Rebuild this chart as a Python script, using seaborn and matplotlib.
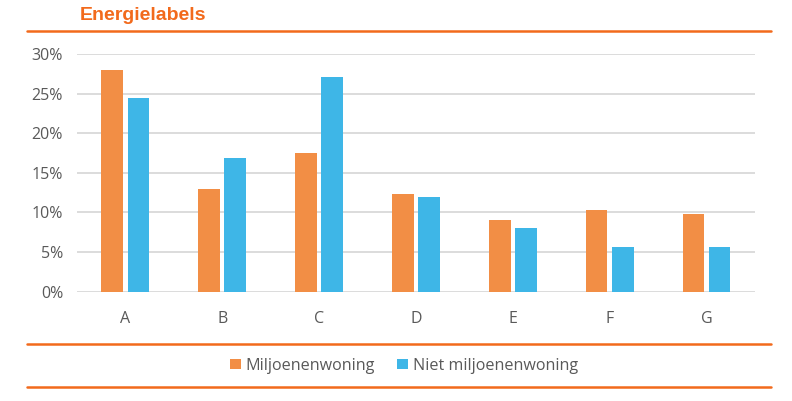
import pandas as pd
import matplotlib.pyplot as plt
import seaborn as sns
from matplotlib.lines import Line2D
from matplotlib.ticker import FuncFormatter

# Energy label shares (%)
labels = ["A", "B", "C", "D", "E", "F", "G"]
miljoen = [28.0, 13.0, 17.5, 12.3, 9.1, 10.3, 9.8]
niet_miljoen = [24.5, 16.9, 27.1, 12.0, 8.1, 5.7, 5.7]
series = ["Miljoenenwoning", "Niet miljoenenwoning"]

df = pd.DataFrame({
    "label": labels * 2,
    "share": miljoen + niet_miljoen,
    "groep": [series[0]] * len(labels) + [series[1]] * len(labels),
})

orange = "#F28E45"
blue = "#3EB6E7"
accent = "#F26A1C"
text_grey = "#595959"

sns.set_style("white")
plt.rcParams["font.family"] = ["Open Sans", "DejaVu Sans"]

fig = plt.figure(figsize=(7.92, 4.01), dpi=100)
ax = fig.add_axes([0.0972, 0.2726, 0.856, 0.5927])

sns.barplot(data=df, x="label", y="share", hue="groep", hue_order=series,
            palette=[orange, blue], width=0.54, gap=0.17, ax=ax,
            edgecolor="none", saturation=1, legend=True)

ax.set_ylim(0, 30)
ax.set_xlim(-0.5, 6.5)
ax.set_yticks(range(0, 31, 5))
ax.yaxis.set_major_formatter(FuncFormatter(lambda v, p: f"{v:.0f}%"))
ax.grid(axis="y", color="#D9D9D9", linewidth=1.3)
ax.set_axisbelow(True)
for s in ax.spines.values():
    s.set_visible(False)
ax.set_xlabel("")
ax.set_ylabel("")
ax.tick_params(axis="y", length=0, pad=10, labelsize=11.5, labelcolor=text_grey)
ax.tick_params(axis="x", length=0, pad=14, labelsize=11.5, labelcolor=text_grey)

handles, lbls = ax.get_legend_handles_labels()
ax.get_legend().remove()
fig.legend(handles, lbls, loc="center", bbox_to_anchor=(0.51, 0.088),
           ncol=2, frameon=False, fontsize=11.6, handlelength=0.65,
           handleheight=0.65, handletextpad=0.3, columnspacing=1.4,
           labelcolor=text_grey)

fig.text(0.101, 0.962, "Energielabels", color=accent, fontsize=14,
         fontweight="bold", ha="left", va="center",
         family=["Liberation Sans", "DejaVu Sans"])

for y in [1 - 31 / 401, 1 - 344 / 401, 1 - 386.5 / 401]:
    fig.add_artist(Line2D([27 / 792, 771 / 792], [y, y], color=accent,
                          linewidth=1.8, transform=fig.transFigure))

fig.savefig("out.png", dpi=100)
